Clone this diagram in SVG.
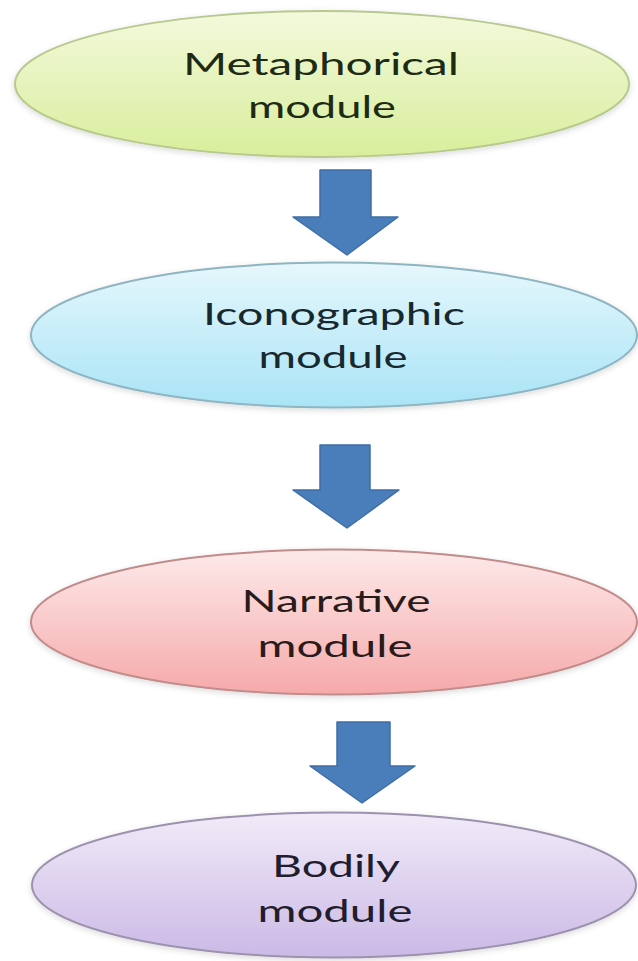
<svg xmlns="http://www.w3.org/2000/svg" width="638" height="961" viewBox="0 0 638 961">
<defs>
<linearGradient id="gGreen" x1="0" y1="0" x2="0" y2="1"><stop offset="0" stop-color="#f3f9dc"/><stop offset="1" stop-color="#d9ee9c"/></linearGradient>
<linearGradient id="gBlue" x1="0" y1="0" x2="0" y2="1"><stop offset="0" stop-color="#e6f7fc"/><stop offset="1" stop-color="#a9e4f6"/></linearGradient>
<linearGradient id="gRed" x1="0" y1="0" x2="0" y2="1"><stop offset="0" stop-color="#fdeaea"/><stop offset="1" stop-color="#f6a9aa"/></linearGradient>
<linearGradient id="gPurple" x1="0" y1="0" x2="0" y2="1"><stop offset="0" stop-color="#f1ebf8"/><stop offset="1" stop-color="#cbb9e6"/></linearGradient>
<filter id="sh" x="-10%" y="-20%" width="120%" height="140%"><feGaussianBlur in="SourceAlpha" stdDeviation="3"/><feOffset dy="2"/><feComponentTransfer><feFuncA type="linear" slope="0.15"/></feComponentTransfer><feMerge><feMergeNode/><feMergeNode in="SourceGraphic"/></feMerge></filter>
</defs>
<style>
.lbl{font-family:Lato,"Open Sans","Liberation Sans",sans-serif;font-size:31px;text-anchor:middle}
.arrow{fill:#4a7ebb;stroke:#3f6da6;stroke-width:1.5;stroke-linejoin:round}
.node ellipse{stroke-width:2;filter:url(#sh)}
</style>
<rect width="638" height="961" fill="#ffffff"/>
<g id="connectors">
<path class="arrow" d="M320,170 H371 V217 H398 L347,255 L293,217 H320 Z"/>
<path class="arrow" d="M320,445 H370 V490 H399 L347,528 L293,490 H320 Z"/>
<path class="arrow" d="M337,722 H390 V766 H415 L362,803 L310,766 H337 Z"/>
</g>
<g id="node1" class="node">
<ellipse cx="322" cy="84" rx="307" ry="73" fill="url(#gGreen)" stroke="#b7c98f"/>
<text class="lbl" x="321" y="75" fill="#1d2a14" textLength="276" lengthAdjust="spacingAndGlyphs">Metaphorical</text>
<text class="lbl" x="322" y="118" fill="#1d2a14" textLength="148" lengthAdjust="spacingAndGlyphs">module</text>
</g>
<g id="node2" class="node">
<ellipse cx="334" cy="335" rx="303" ry="72.5" fill="url(#gBlue)" stroke="#8fb5c2"/>
<text class="lbl" x="334" y="325" fill="#17282f" textLength="262" lengthAdjust="spacingAndGlyphs">Iconographic</text>
<text class="lbl" x="333" y="368" fill="#17282f" textLength="149" lengthAdjust="spacingAndGlyphs">module</text>
</g>
<g id="node3" class="node">
<ellipse cx="334" cy="622" rx="303" ry="72.5" fill="url(#gRed)" stroke="#c08c8c"/>
<text class="lbl" x="336" y="612" fill="#2a1a1a" textLength="189" lengthAdjust="spacingAndGlyphs">Narrative</text>
<text class="lbl" x="335" y="657" fill="#2a1a1a" textLength="155" lengthAdjust="spacingAndGlyphs">module</text>
</g>
<g id="node4" class="node">
<ellipse cx="334" cy="885" rx="302" ry="72.5" fill="url(#gPurple)" stroke="#9c92ae"/>
<text class="lbl" x="336" y="877" fill="#211d2e" textLength="128" lengthAdjust="spacingAndGlyphs">Bodily</text>
<text class="lbl" x="335" y="922" fill="#211d2e" textLength="155" lengthAdjust="spacingAndGlyphs">module</text>
</g>
</svg>
